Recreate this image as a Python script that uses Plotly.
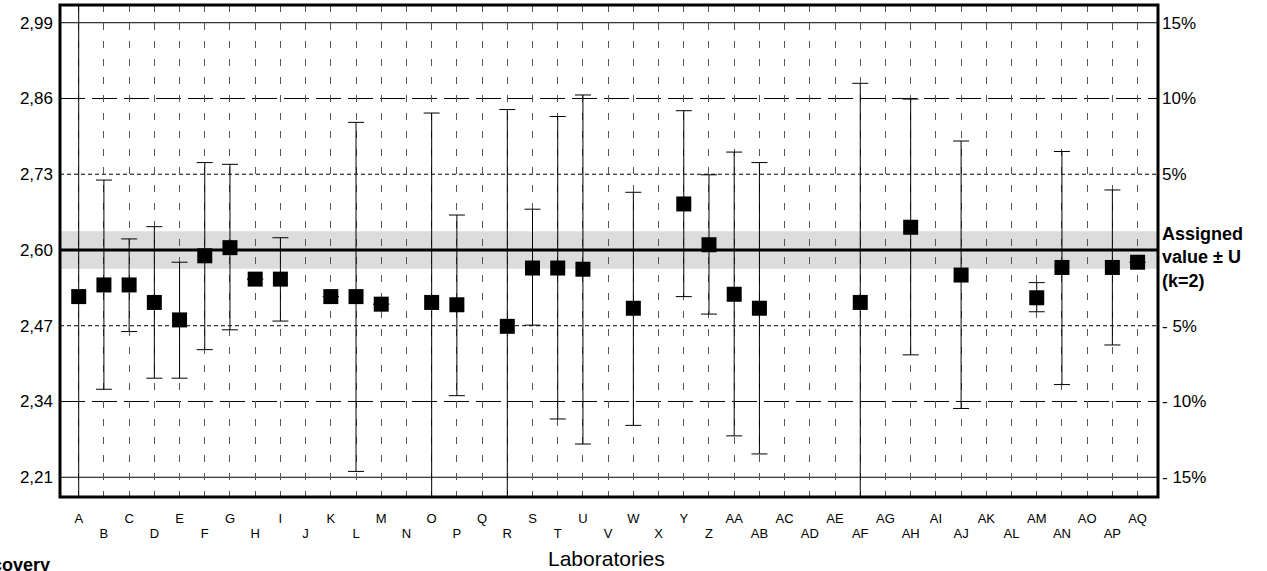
import plotly.graph_objects as go

# ---------------- data ----------------
labs = ["A", "B", "C", "D", "E", "F", "G", "H", "I", "J", "K", "L", "M", "N",
        "O", "P", "Q", "R", "S", "T", "U", "V", "W", "X", "Y", "Z",
        "AA", "AB", "AC", "AD", "AE", "AF", "AG", "AH", "AI", "AJ", "AK",
        "AL", "AM", "AN", "AO", "AP", "AQ"]

values = [2.520, 2.540, 2.540, 2.510, 2.480, 2.590, 2.604, 2.550, 2.550, None,
          2.520, 2.520, 2.507, None, 2.510, 2.506, None, 2.469, 2.569, 2.569,
          2.567, None, 2.500, None, 2.679, 2.609, 2.524, 2.500, None, None,
          None, 2.510, None, 2.639, None, 2.557, None, None, 2.518, 2.570,
          None, 2.570, 2.579]

# upper / lower limits of the expanded uncertainty (values beyond the axis are estimates)
upper = [3.100, 2.720, 2.619, 2.640, 2.579, 2.750, 2.747, None, 2.621, None,
         None, 2.819, None, None, 2.835, 2.660, None, 2.841, 2.670, 2.829,
         2.866, None, 2.699, None, 2.839, 2.729, 2.768, 2.750, None, None,
         None, 2.886, None, 2.859, None, 2.787, None, None, 2.544, 2.769,
         None, 2.703, None]

lower = [1.940, 2.361, 2.460, 2.380, 2.380, 2.429, 2.463, None, 2.478, None,
         None, 2.220, None, None, 2.130, 2.350, None, 2.100, 2.471, 2.310,
         2.267, None, 2.299, None, 2.520, 2.490, 2.281, 2.250, None, None,
         None, 2.130, None, 2.420, None, 2.328, None, None, 2.494, 2.369,
         None, 2.437, None]

assigned = 2.60
U = 0.032
pct_levels = [-15, -10, -5, 0, 5, 10, 15]
right_labels = ["- 15%", "- 10%", "- 5%", "", "5%", "10%", "15%"]

y_range = [2.1761, 3.0204]
x_range = [-0.742, 42.81]

FONT = "Liberation Sans, Arial, Helvetica, sans-serif"

# ---------------- derived ----------------
xs = list(range(len(labs)))
err_plus = [(u - v) if (u is not None and v is not None) else None for u, v in zip(upper, values)]
err_minus = [(v - l) if (l is not None and v is not None) else None for l, v in zip(lower, values)]
tick_vals = [round(assigned * (1 + p / 100.0), 2) for p in pct_levels]
left_text = [f"{t:.2f}".replace(".", ",") for t in tick_vals]
right_vals = [t for t, p in zip(tick_vals, pct_levels) if p != 0]
right_text = [lbl for lbl, p in zip(right_labels, pct_levels) if p != 0]

fig = go.Figure()
fig.add_trace(go.Scatter(
    x=xs, y=values, mode="markers",
    marker=dict(symbol="square", size=15, color="black", line=dict(width=0)),
    error_y=dict(type="data", symmetric=False, array=err_plus, arrayminus=err_minus,
                 color="black", thickness=1, width=8),
    showlegend=False, hoverinfo="skip",
))
# empty helper traces so that the secondary (label-only) axes are drawn
fig.add_trace(go.Scatter(x=[None], y=[None], xaxis="x2", yaxis="y", mode="markers",
                         showlegend=False, hoverinfo="skip"))
fig.add_trace(go.Scatter(x=[None], y=[None], xaxis="x", yaxis="y2", mode="markers",
                         showlegend=False, hoverinfo="skip"))

shapes = []
# assigned value +/- U band
shapes.append(dict(type="rect", xref="paper", yref="y", x0=0, x1=1,
                   y0=assigned - U, y1=assigned + U,
                   fillcolor="#dcdcdc", line=dict(width=0), layer="below"))
for t, p in zip(tick_vals, pct_levels):
    if p == 0:
        ln = dict(color="black", width=3)
    elif abs(p) == 15:
        ln = dict(color="black", width=1)
    elif abs(p) == 10:
        ln = dict(color="black", width=1, dash="25px,7px")
    else:
        ln = dict(color="black", width=1, dash="4px,3px")
    shapes.append(dict(type="line", xref="paper", yref="y", x0=0, x1=1, y0=t, y1=t,
                       line=ln, layer="between"))
# frame
shapes.append(dict(type="rect", xref="paper", yref="paper", x0=0, x1=1, y0=0, y1=1,
                   line=dict(color="black", width=3), layer="above"))

annotations = [
    dict(text="<b>Assigned<br>value ± U<br>(k=2)</b>", xref="paper", yref="y",
         x=1, y=assigned, xanchor="left", yanchor="middle", xshift=2, yshift=-8,
         align="left", showarrow=False, font=dict(family=FONT, size=18, color="black")),
    dict(text="Laboratories", xref="paper", yref="paper", x=0.5, y=0,
         xanchor="center", yanchor="middle", yshift=-61, xshift=-3,
         showarrow=False, font=dict(family=FONT, size=21, color="black")),
    dict(text="<b>Recovery</b>", xref="paper", yref="paper", x=0, y=0,
         xanchor="right", yanchor="middle", xshift=-8, yshift=-68,
         showarrow=False, font=dict(family=FONT, size=18, color="black")),
]

fig.update_layout(
    width=1267, height=571,
    margin=dict(l=60, r=109, t=5, b=74),
    paper_bgcolor="white", plot_bgcolor="white",
    font=dict(family=FONT, color="black"),
    shapes=shapes, annotations=annotations,
    xaxis=dict(range=x_range, tickvals=xs,
               ticktext=[l if i % 2 == 0 else "" for i, l in enumerate(labs)],
               showgrid=True, gridcolor="#555555", gridwidth=1, griddash="7px,11px",
               zeroline=False, showline=False, ticks="",
               tickfont=dict(family=FONT, size=13, color="black"),
               ticklabelstandoff=12, tickangle=0),
    xaxis2=dict(range=x_range, overlaying="x", anchor="y", side="bottom",
                tickvals=[i for i in xs if i % 2 == 1],
                ticktext=[l for i, l in enumerate(labs) if i % 2 == 1],
                showgrid=False, zeroline=False, showline=False, ticks="",
                tickfont=dict(family=FONT, size=13, color="black"),
                ticklabelstandoff=27, tickangle=0),
    yaxis=dict(range=y_range, tickvals=tick_vals, ticktext=left_text,
               showgrid=False, zeroline=False, showline=False, ticks="",
               tickfont=dict(family=FONT, size=17, color="black"),
               ticklabelstandoff=6),
    yaxis2=dict(range=y_range, overlaying="y", anchor="x", side="right",
                tickvals=right_vals, ticktext=right_text,
                showgrid=False, zeroline=False, showline=False, ticks="",
                tickfont=dict(family=FONT, size=17, color="black"),
                ticklabelstandoff=3),
)

fig.write_html("out.html", config={"displayModeBar": False},
               post_script="document.body.style.margin='0';")
